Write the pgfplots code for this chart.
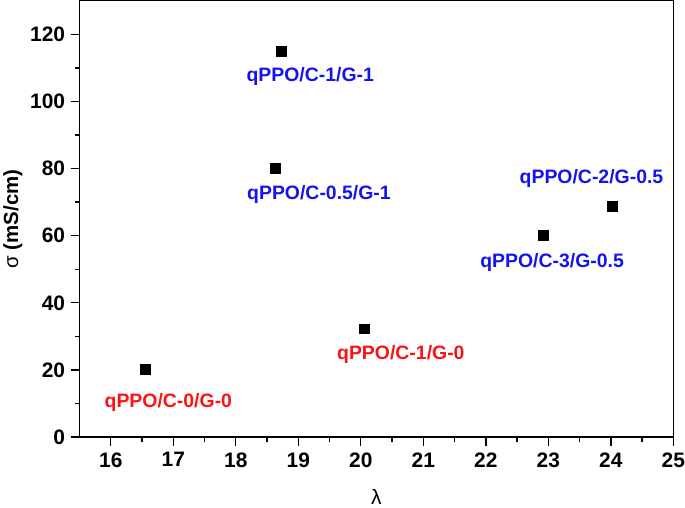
\documentclass[border=0pt]{standalone}
\usepackage{pgfplots}
\pgfplotsset{compat=1.18}
\usepackage{fontspec}
\setmainfont{Liberation Sans}
\definecolor{lblue}{RGB}{20,20,235}
\definecolor{lred}{RGB}{250,20,20}
\begin{document}
\begin{tikzpicture}
\begin{axis}[
  scale only axis,
  width=596pt, height=438pt,
  xmin=15.5, xmax=25, ymin=0, ymax=130,
  xtick={16,...,25}, ytick={0,20,...,120},
  minor x tick num=1, minor y tick num=1,
  tick align=outside,
  major tick length=9pt, minor tick length=5pt,
  xtick pos=bottom, ytick pos=left,
  axis line style={line width=1.5pt},
  every tick/.style={line width=1.3pt, black},
  /pgf/number format/assume math mode=true,
  ticklabel style={font=\fontsize{21}{25}\selectfont\bfseries},
  xticklabel style={yshift=-3pt, inner xsep=0pt},
  yticklabel style={xshift=-2pt},
  xlabel={\fontsize{21}{25}\selectfont λ},
  ylabel={\fontsize{20.5}{24}\selectfont σ \bfseries (mS/cm)},
  xlabel style={yshift=-15pt},
  ylabel style={yshift=1pt},
  clip=false,
]
\addplot[only marks, mark=square*, mark size=5pt, black] coordinates {
  (16.55,20.2) (18.72,115) (18.63,80) (20.06,32.3) (22.91,60.2) (24.02,68.8)
};
\begin{scope}[every node/.style={font=\fontsize{19.5}{23}\selectfont\bfseries, anchor=center, inner sep=0pt}]
\node[text=lblue] at (axis cs:19.19,107.3) {qPPO/C-1/G-1};
\node[text=lblue] at (axis cs:19.33,72.3) {qPPO/C-0.5/G-1};
\node[text=lblue] at (axis cs:23.69,77) {qPPO/C-2/G-0.5};
\node[text=lblue] at (axis cs:23.06,51.9) {qPPO/C-3/G-0.5};
\node[text=lred] at (axis cs:20.64,24.6) {qPPO/C-1/G-0};
\node[text=lred] at (axis cs:16.92,10.4) {qPPO/C-0/G-0};
\end{scope}
\end{axis}
\end{tikzpicture}
\end{document}
